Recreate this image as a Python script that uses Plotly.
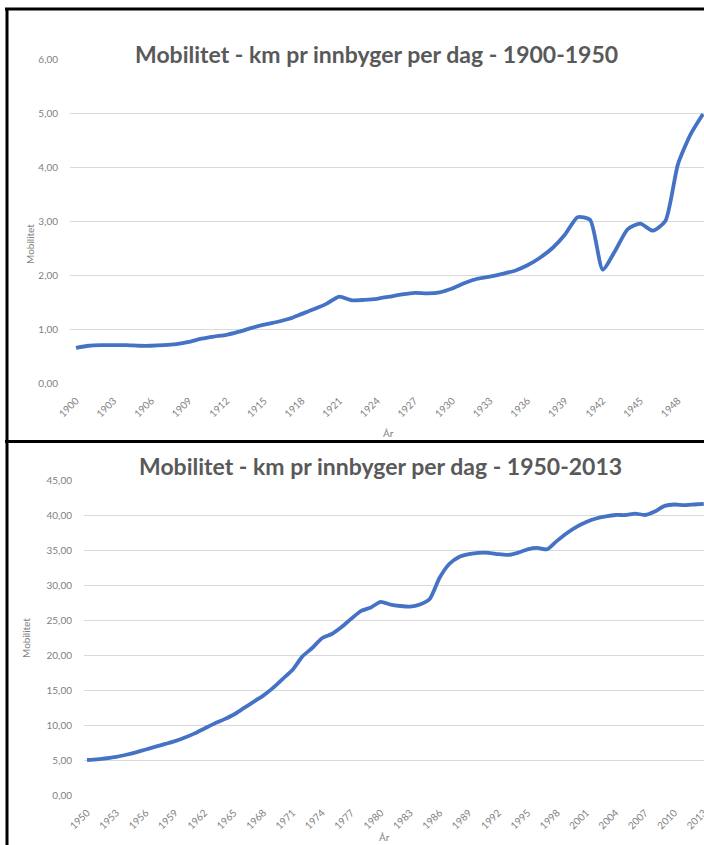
import plotly.graph_objects as go

# ---------------- data ----------------
years_a = list(range(1900, 1951))
mob_a = [0.65, 0.69, 0.70, 0.70, 0.70, 0.69, 0.69, 0.70, 0.72, 0.76,
         0.82, 0.86, 0.89, 0.95, 1.02, 1.08, 1.13, 1.19, 1.28, 1.37,
         1.47, 1.60, 1.53, 1.54, 1.56, 1.60, 1.64, 1.67, 1.66, 1.68,
         1.75, 1.85, 1.93, 1.97, 2.02, 2.08, 2.18, 2.32, 2.50, 2.75,
         3.07, 3.02, 2.10, 2.45, 2.85, 2.95, 2.82, 3.00, 4.05, 4.60,
         4.98]

years_b = list(range(1950, 2014))
mob_b = [5.0, 5.1, 5.25, 5.45, 5.75, 6.1, 6.5, 6.9, 7.3, 7.7,
         8.2, 8.8, 9.5, 10.2, 10.8, 11.5, 12.4, 13.3, 14.2, 15.3,
         16.6, 17.9, 19.8, 21.0, 22.4, 23.0, 24.0, 25.2, 26.3, 26.8,
         27.6, 27.2, 27.0, 26.9, 27.2, 28.0, 31.0, 33.0, 34.0, 34.4,
         34.6, 34.6, 34.4, 34.3, 34.6, 35.1, 35.3, 35.1, 36.3, 37.4,
         38.3, 39.0, 39.5, 39.8, 40.0, 40.0, 40.2, 40.0, 40.5, 41.3,
         41.5, 41.4, 41.5, 41.6]

ticks_a = list(range(1900, 1951, 3))
ticks_b = list(range(1950, 2014, 3))

title_a = "Mobilitet - km pr innbyger per dag - 1900-1950"
title_b = "Mobilitet - km pr innbyger per dag - 1950-2013"
ytitle = "Mobilitet"
xtitle = "År"

# ---------------- layout helpers ----------------
W, H = 704, 845
def px(x):
    return x / W
def py(y):
    return 1 - y / H

LINE = "#4472C4"
GRID = "#D9D9D9"
TICK = "#7F7F7F"
FONT = "Lato"

fig = go.Figure()
fig.add_trace(go.Scatter(x=years_a, y=mob_a, mode="lines",
                         line=dict(color=LINE, width=3.8, shape="spline", smoothing=0.6),
                         xaxis="x", yaxis="y", showlegend=False, hoverinfo="skip"))
fig.add_trace(go.Scatter(x=years_b, y=mob_b, mode="lines",
                         line=dict(color=LINE, width=3.8, shape="spline", smoothing=0.6),
                         xaxis="x2", yaxis="y2", showlegend=False, hoverinfo="skip"))

xcommon = dict(showgrid=False, zeroline=False, showline=False, tickangle=-45,
               tickfont=dict(family=FONT, size=10, color=TICK), ticks="",
               ticklabeloverflow="allow", ticklabelstandoff=9,
               automargin=False, fixedrange=True)
ycommon = dict(showgrid=True, gridcolor=GRID, gridwidth=1, zeroline=False, showline=False,
               tickfont=dict(family=FONT, size=10, color=TICK), ticks="",
               tickformat=".2f", automargin=False, ticklabelstandoff=11, fixedrange=True)

fig.update_layout(
    width=W, height=H,
    margin=dict(l=0, r=0, t=0, b=0),
    paper_bgcolor="white", plot_bgcolor="white",
    separators=", ",
    xaxis=dict(domain=[px(70), 1], range=[1899.52, 1950.08], tickvals=ticks_a,
               anchor="y", **xcommon),
    yaxis=dict(domain=[py(383), py(59)], range=[0, 6], dtick=1, anchor="x", **ycommon),
    xaxis2=dict(domain=[px(84), 1], range=[1949.69, 2013.02], tickvals=ticks_b,
                anchor="y2", **xcommon),
    yaxis2=dict(domain=[py(795), py(480)], range=[0, 45], dtick=5, anchor="x2", **ycommon),
)

ann = []
ann.append(dict(text="<b>" + title_a + "</b>", x=px(376), y=py(38), xref="paper", yref="paper",
                showarrow=False, font=dict(family=FONT, size=23, color="#595959")))
ann.append(dict(text="<b>" + title_b + "</b>", x=px(381), y=py(466), xref="paper", yref="paper",
                showarrow=False, font=dict(family=FONT, size=23, color="#595959")))
ann.append(dict(text=ytitle, x=px(22), y=py(222), xref="paper", yref="paper", textangle=-90,
                showarrow=False, font=dict(family=FONT, size=10, color=TICK)))
ann.append(dict(text=ytitle, x=px(18), y=py(660), xref="paper", yref="paper", textangle=-90,
                showarrow=False, font=dict(family=FONT, size=10, color=TICK)))
ann.append(dict(text=xtitle, x=px(388), y=py(433), xref="paper", yref="paper",
                showarrow=False, font=dict(family=FONT, size=10, color=TICK)))
ann.append(dict(text=xtitle, x=px(384), y=py(829), xref="paper", yref="paper", yanchor="top",
                showarrow=False, font=dict(family=FONT, size=10, color=TICK)))
fig.update_layout(annotations=ann)

shapes = [
    dict(type="line", xref="paper", yref="paper", x0=px(5), x1=1, y0=py(9), y1=py(9),
         line=dict(color="black", width=3)),
    dict(type="line", xref="paper", yref="paper", x0=px(7), x1=px(7), y0=py(8), y1=0,
         line=dict(color="black", width=3)),
    dict(type="line", xref="paper", yref="paper", x0=px(5), x1=1, y0=py(441.5), y1=py(441.5),
         line=dict(color="black", width=3)),
]
fig.update_layout(shapes=shapes)

fig.write_html("out.html")
